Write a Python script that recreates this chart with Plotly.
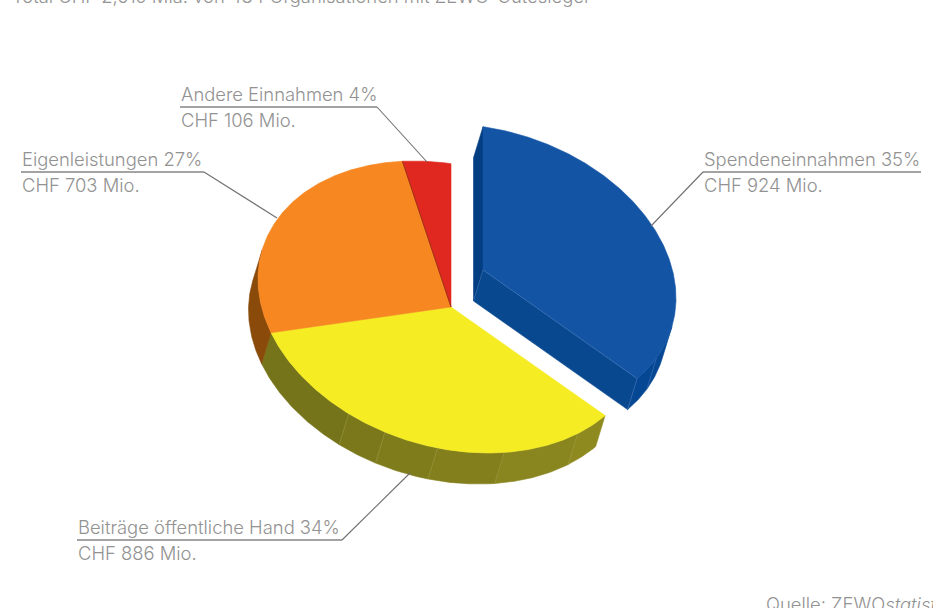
import math
import plotly.graph_objects as go

# Data
categories = ["Spendeneinnahmen", "Beiträge öffentliche Hand", "Eigenleistungen", "Andere Einnahmen"]
values_mio = [924, 886, 703, 106]
percent = [35, 34, 27, 4]
top_colors = ["#1354a5", "#f5ec24", "#f78720", "#e02820"]
rim_colors = ["#064794", "#7f7c1c", "#8a4a0a", "#8a2015"]
title_text = "Total CHF 2,619 Mia. von 484 Organisationen mit ZEWO-Gütesiegel"
source_prefix = "Quelle: ZEWO"
source_italic = "statistik"

# Label layout in page pixels: x of text start, x of rule end, y of rule, leader end
label_layout = {
    "Spendeneinnahmen": dict(x0=703, x1=921, y=172, lx=651, ly=226, rule_from="x0"),
    "Beiträge öffentliche Hand": dict(x0=77, x1=342, y=540, lx=410, ly=473, rule_from="x1"),
    "Eigenleistungen": dict(x0=21, x1=204, y=172, lx=277, ly=218, rule_from="x1"),
    "Andere Einnahmen": dict(x0=180, x1=377, y=107, lx=427, ly=162, rule_from="x1"),
}

# Pie projection
CX, CY = 451, 307
AX, BX, BY = 193, 28, 143.3
DEPTH_X, DEPTH_Y = -9.5, 31
EXPLODE_X, EXPLODE_Y = 32, -37
RIM_FROM, RIM_TO = 102, 282
blue_facets = [116]
yellow_facets = [139, 164, 184, 200, 212]
yellow_facet_colors = ["#8f8a20", "#89851f", "#837f1c", "#7f7c1c", "#7b781b", "#76741a"]
total = sum(values_mio)
edges = [0]
for v in values_mio:
    edges.append(edges[-1] + v / total * 360)


def pt(alpha, dx=0, dy=0, down=False):
    a = math.radians(alpha)
    s, c = math.sin(a), math.cos(a)
    x = CX + dx + AX * s
    y = CY + dy + BX * s - BY * c
    if down:
        x += DEPTH_X
        y += DEPTH_Y
    return x, y


def arc(a0, a1, dx=0, dy=0, down=False):
    n = max(2, int(abs(a1 - a0) * 2))
    return [pt(a0 + (a1 - a0) * i / n, dx, dy, down) for i in range(n + 1)]


fig = go.Figure()


def poly(points, color, line_color=None, width=0.6):
    xs = [p[0] for p in points] + [points[0][0]]
    ys = [p[1] for p in points] + [points[0][1]]
    fig.add_trace(go.Scatter(x=xs, y=ys, mode="lines", fill="toself", fillcolor=color,
                             line=dict(color=line_color or color, width=width),
                             hoverinfo="skip", showlegend=False))


def seg(p, q, color, width=0.6, dash=None):
    fig.add_trace(go.Scatter(x=[p[0], q[0]], y=[p[1], q[1]], mode="lines",
                             line=dict(color=color, width=width, dash=dash),
                             hoverinfo="skip", showlegend=False))


def rim(a0, a1, color, dx=0, dy=0):
    poly(arc(a0, a1, dx, dy) + arc(a1, a0, dx, dy, True), color)


# Exploded blue slice
bx, by = EXPLODE_X, EXPLODE_Y
apex = (CX + bx, CY + by)
apex_d = (apex[0] + DEPTH_X, apex[1] + DEPTH_Y)
a_end = edges[1]
poly([pt(0, bx, by), apex, apex_d, pt(0, bx, by, True)], "#033e82")
poly([apex, pt(a_end, bx, by), pt(a_end, bx, by, True), apex_d], "#07488f")
rim(RIM_FROM, a_end, rim_colors[0], bx, by)
for a in blue_facets:
    seg(pt(a, bx, by), pt(a, bx, by, True), "#5f8cc4", 0.4)
poly([apex] + arc(0, a_end, bx, by), top_colors[0])
seg(apex, pt(a_end, bx, by), "#5f8cc4", 0.4)
seg(apex, apex_d, "#5f8cc4", 0.3)
seg(pt(a_end, bx, by), pt(a_end, bx, by, True), "#5f8cc4", 0.4)

# Yellow rim, facet by facet
facet_edges = [edges[1]] + yellow_facets + [edges[2]]
for i in range(len(facet_edges) - 1):
    rim(facet_edges[i], facet_edges[i + 1], yellow_facet_colors[i])
for a in yellow_facets:
    seg(pt(a), pt(a, down=True), "#a5a24a", 0.4)

# Orange rim
rim(edges[2], RIM_TO, rim_colors[2])

# Tops of the joined slices
for k in (1, 2, 3):
    poly([(CX, CY)] + arc(edges[k], edges[k + 1]), top_colors[k])
seg((CX, CY), pt(edges[3]), "#6a2c0a", 0.6)

# Labels
annotations = []
for name, val, pct in zip(categories, values_mio, percent):
    lay = label_layout[name]
    seg((lay["x0"], lay["y"]), (lay["x1"], lay["y"]), "#858585", 1.5)
    seg((lay[lay["rule_from"]], lay["y"]), (lay["lx"], lay["ly"]), "#707070", 1.1)
    annotations.append(dict(x=lay["x0"], y=lay["y"] - 1, text=f"{name} {pct}%", xanchor="left", yanchor="bottom"))
    annotations.append(dict(x=lay["x0"], y=lay["y"] + 1, text=f"CHF {val} Mio.", xanchor="left", yanchor="top"))
annotations.append(dict(x=11, y=0, text=title_text, xanchor="left", yanchor="middle", yshift=4))
annotations.append(dict(x=765, y=608, text=f"{source_prefix}<i>{source_italic}</i>", xanchor="left", yanchor="middle", yshift=4))
for a in annotations:
    a.update(xref="x", yref="y", showarrow=False, borderpad=0,
             font=dict(family="Inter", size=18.4, color="#929292", weight=300))

fig.update_layout(
    width=933, height=608, margin=dict(l=0, r=0, t=0, b=0),
    paper_bgcolor="white", plot_bgcolor="white", showlegend=False,
    xaxis=dict(range=[0, 933], visible=False, fixedrange=True),
    yaxis=dict(range=[608, 0], visible=False, fixedrange=True),
    annotations=annotations,
)
fig.write_html("out.html", config={"displayModeBar": False},
               post_script="document.body.style.margin='0';document.body.style.overflow='hidden';")
